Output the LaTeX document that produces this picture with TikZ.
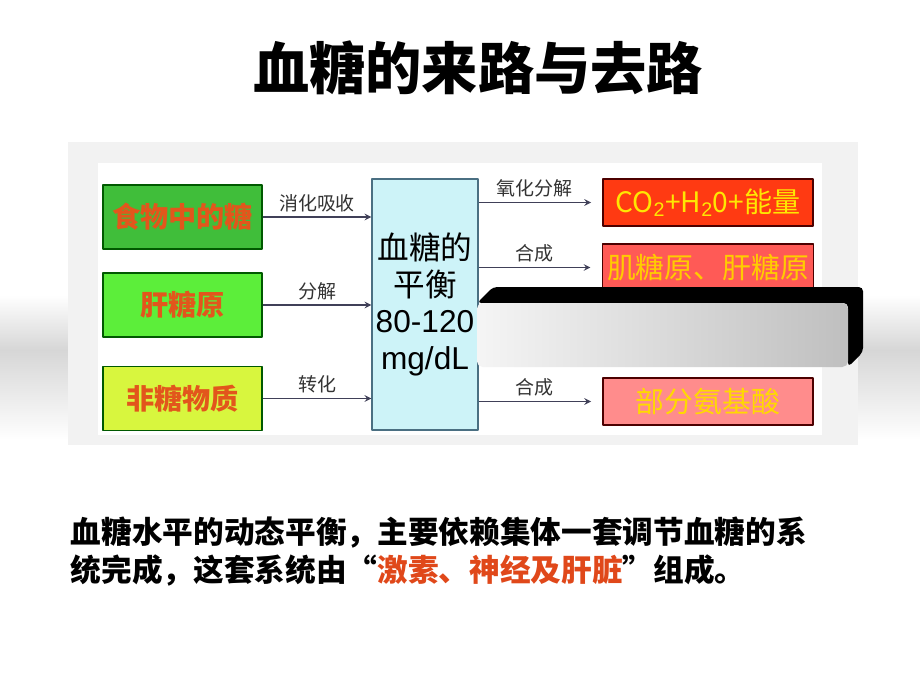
\documentclass[tikz,border=0pt]{standalone}
\usepackage{fontspec}
\setmainfont{Liberation Sans}
\newfontfamily\cjk{Noto Sans CJK SC}
\usetikzlibrary{positioning}
\definecolor{srcA}{HTML}{40BE3A}
\definecolor{srcB}{HTML}{5CEE3A}
\definecolor{srcC}{HTML}{D8F63E}
\definecolor{srcText}{HTML}{E2561C}
\definecolor{balFill}{HTML}{CDF3F8}
\definecolor{outA}{HTML}{FF3A12}
\definecolor{outB}{HTML}{FF5A56}
\definecolor{outD}{HTML}{FF8C8C}
\definecolor{arr}{HTML}{404058}
\definecolor{keyWord}{HTML}{E0481A}
\begin{document}
\begin{tikzpicture}[>=stealth, x=0.025cm, y=-0.025cm, line join=round,
    src/.style={draw=green!35!black, line width=1pt, minimum width=3.975cm, minimum height=1.6cm,
        font=\cjk\fontsize{20}{22}\selectfont\bfseries, text=srcText},
    dst/.style={draw=black!70!red, line width=1pt, minimum width=5.25cm, minimum height=1.175cm,
        font=\cjk\fontsize{20.5}{22}\selectfont},
    lbl/.style={font=\cjk\fontsize{13.5}{15}\selectfont, text=black!80, inner sep=3pt},
    flow/.style={->, draw=arr, line width=1.1pt}]
    \useasboundingbox (0,0) rectangle (920,690);
    \fill[white] (0,0) rectangle (920,690);
    % grey band behind the picture
    \shade[top color=white, bottom color=black!16] (0,295) rectangle (920,350);
    \shade[top color=black!16, bottom color=white] (0,350) rectangle (920,440);
    \node[font=\cjk\fontsize{40}{44}\selectfont\bfseries] (title) at (478,68) {血糖的来路与去路};
    % picture frame
    \fill[black!5] (68,142) rectangle (858,445);
    \fill[white] (98,163) rectangle (822,435);
    \node[src, fill=srcA] (food) at (182.5,217) {食物中的糖};
    \node[src, fill=srcB] (gly) at (182.5,305) {肝糖原};
    \node[src, fill=srcC] (non) at (182.5,398.5) {非糖物质};
    \node[draw=black!55!cyan, line width=1pt, fill=balFill, minimum width=2.65cm, minimum height=6.275cm,
        align=center, font=\fontsize{22.5}{26}\selectfont, inner sep=0pt] (bal) at (425,304.5)
        {{\cjk 血糖的}\\{\cjk 平衡}\\80-120\\mg/dL};
    \node[dst, fill=outA, text=yellow!90!orange] (ox) at (708,202.5)
        {\fontsize{20}{22}\selectfont CO$_{\mathrm{2}}$+H$_{\mathrm{2}}$0+{\cjk 能量}};
    \node[dst, fill=outB, text=orange!40!yellow] (syn) at (708,267.5) {肌糖原、肝糖原};
    \node[dst, fill=outD, text=orange!30!yellow] (ami) at (708,401.5) {部分氨基酸};
    \draw[flow] (food.east) -- node[lbl, above] {消化吸收} (food.east -| bal.west);
    \draw[flow] (gly.east) -- node[lbl, above] {分解} (gly.east -| bal.west);
    \draw[flow] (non.east) -- node[lbl, above] {转化} (non.east -| bal.west);
    \draw[flow, shorten >=8] (bal.east |- ox.west) -- node[lbl, above, pos=0.45] {氧化分解} (ox.west);
    \draw[flow, shorten >=8] (bal.east |- syn.west) -- node[lbl, above, pos=0.45] {合成} (syn.west);
    \draw[flow, shorten >=8] (bal.east |- ami.west) -- node[lbl, above, pos=0.45] {合成} (ami.west);
    % blank block laid over the picture
    \fill[black, rounded corners=3pt] (477,303) -- (493,287) -- (863,287) -- (863,352) -- (848,367) -- (848,303) -- cycle;
    \shade[left color=black!4, right color=black!25, rounded corners=4pt] (477,303) rectangle (848,367);
    \node[anchor=north west, align=left, font=\cjk\fontsize{21.8}{27}\selectfont\bfseries] (note) at (66,512)
        {血糖水平的动态平衡，主要依赖集体一套调节血糖的系\\
         统完成，这套系统由“{\color{keyWord}激素、神经及肝脏}”组成。};
\end{tikzpicture}
\end{document}
